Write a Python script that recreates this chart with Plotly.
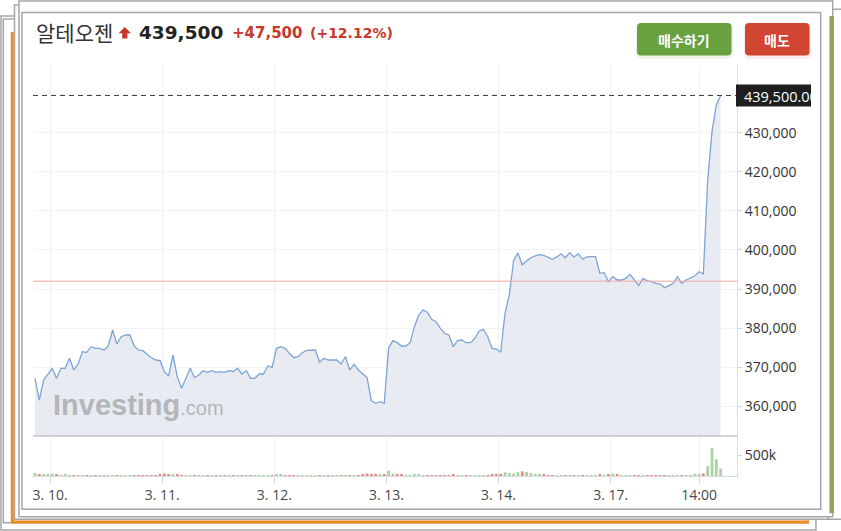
import plotly.graph_objects as go

W, H = 841, 531

# ---------------- data ----------------
prices = [
    367160, 361600, 366700, 368260, 369720, 367160, 369720, 369720, 372280, 369290,
    370820, 373960, 373810, 375250, 374830, 374830, 374400, 375420, 379510, 375940,
    377800, 378240, 378240, 375420, 374400, 374230, 373380, 372430, 371840, 371670,
    368850, 367750, 373120, 367580, 364610, 367160, 369720, 367330, 368010, 369110,
    368700, 369110, 368700, 368850, 368700, 369110, 368850, 369720, 368260, 369110,
    367160, 367160, 368260, 368260, 370310, 369970, 374830, 375250, 374830, 373550,
    372430, 372690, 373700, 374300, 374400, 374400, 371300, 372280, 371840, 371840,
    371840, 370820, 372690, 369290, 370740, 369290, 368260, 367330, 361430, 360770,
    361180, 360770, 374830, 376780, 376270, 375420, 375420, 376270, 380360, 383350,
    384630, 384040, 382250, 381640, 379950, 378670, 378240, 375250, 376780, 376960,
    376270, 376270, 377390, 379260, 379690, 377800, 374830, 374650, 373810, 383780,
    388500, 397300, 399200, 396200, 397200, 398000, 398500, 398800, 398600, 398000,
    397600, 398200, 399000, 398000, 399300, 398200, 399000, 397600, 398200, 398300,
    398300, 394010, 394170, 391870, 393150, 392300, 392300, 392730, 393750, 392300,
    390850, 392730, 392050, 391870, 391450, 391280, 390340, 390850, 391450, 393150,
    391450, 392300, 392730, 393320, 394420, 393840, 417880, 430230, 437060, 439500,
]

volumes_k = [
    70, 40, 45, 25, 55, 30, 20, 25, 15, 20,
    15, 18, 12, 15, 10, 12, 15, 10, 14, 10,
    12, 10, 10, 12, 10, 8, 10, 8, 12, 30,
    60, 45, 30, 25, 20, 15, 12, 15, 10, 10,
    8, 10, 8, 8, 10, 8, 8, 10, 8, 8,
    10, 8, 10, 8, 12, 20, 35, 25, 20, 12,
    10, 12, 10, 8, 10, 8, 10, 20, 12, 10,
    15, 12, 10, 12, 10, 15, 30, 60, 50, 35,
    40, 30, 130, 60, 35, 25, 20, 15, 25, 30,
    20, 15, 15, 12, 10, 15, 12, 25, 12, 10,
    10, 12, 15, 20, 12, 15, 25, 30, 40, 90,
    70, 60, 100, 110, 95, 70, 50, 45, 30, 20,
    15, 12, 15, 12, 10, 12, 10, 12, 10, 10,
    15, 25, 20, 35, 55, 25, 20, 15, 12, 10,
    15, 12, 12, 10, 10, 12, 10, 10, 12, 15,
    12, 15, 20, 25, 40, 60, 235, 665, 395, 175,
]

tick_index = [3.5, 29.5, 55.5, 81.5, 107.5, 133.5, 154]
tick_labels = ["3. 10.", "3. 11.", "3. 12.", "3. 13.", "3. 14.", "3. 17.", "14:00"]
price_ticks = [360000, 370000, 380000, 390000, 400000, 410000, 420000, 430000]
volume_ticks = [500000]
volume_tick_labels = ["500k"]

stock_name = "알테오젠"
last_price = 439500
prev_close = 392000
change = 47500
change_pct = 12.12
buy_label = "매수하기"
sell_label = "매도"

# ---------------- helpers ----------------
def px(x):
    return x / W

def py(y):
    return 1 - y / H

bars = list(range(len(prices)))
volumes = [v * 1000 for v in volumes_k]
vol_colors = []
for i, p in enumerate(prices):
    up = i == 0 or p >= prices[i - 1]
    vol_colors.append("#a9d3a3" if up else "#e58a85")

PLOT_L, PLOT_R = 33, 737
PRICE_T, PRICE_B = 65, 436
VOL_B = 476

per_px = 10000 / 39.1
price_top = 390000 + (289 - PRICE_T) * per_px
price_bot = 390000 - (PRICE_B - 289) * per_px
vol_top = (VOL_B - PRICE_B) / 21.0 * 500000

fig = go.Figure()
fig.add_trace(go.Scatter(
    x=bars, y=prices, mode="lines",
    line=dict(color="#7ea4d4", width=1.3),
    fill="tozeroy", fillcolor="#e8ecf2",
    hoverinfo="skip", showlegend=False,
    xaxis="x", yaxis="y",
))
fig.add_trace(go.Bar(
    x=bars, y=volumes, marker=dict(color=vol_colors, line=dict(width=0)),
    hoverinfo="skip", showlegend=False, xaxis="x", yaxis="y2",
))

shapes = []

def rect(x0, y0, x1, y1, color="#a6a6a6", width=1.5, fill="white", layer="below"):
    shapes.append(dict(type="rect", xref="paper", yref="paper",
                       x0=px(x0), x1=px(x1), y0=py(y1), y1=py(y0),
                       line=dict(color=color, width=width), fillcolor=fill, layer=layer))

def seg(x0, y0, x1, y1, color, width, layer="below", dash=None):
    d = dict(color=color, width=width)
    if dash:
        d["dash"] = dash
    shapes.append(dict(type="line", xref="paper", yref="paper",
                       x0=px(x0), x1=px(x1), y0=py(y0), y1=py(y1), line=d, layer=layer))

def path(points, fill, layer="below", opacity=1.0):
    parts = []
    for cmd, coords in points:
        c = " ".join(f"{px(a):.5f},{py(b):.5f}" for a, b in coords)
        parts.append(f"{cmd} {c}")
    shapes.append(dict(type="path", xref="paper", yref="paper", path=" ".join(parts) + " Z",
                       fillcolor=fill, line=dict(width=0, color=fill),
                       layer=layer, opacity=opacity))

def rrect(x0, y0, x1, y1, r, fill, layer="below", opacity=1.0):
    pts = [
        ("M", [(x0 + r, y0)]), ("L", [(x1 - r, y0)]), ("Q", [(x1, y0), (x1, y0 + r)]),
        ("L", [(x1, y1 - r)]), ("Q", [(x1, y1), (x1 - r, y1)]), ("L", [(x0 + r, y1)]),
        ("Q", [(x0, y1), (x0, y1 - r)]), ("L", [(x0, y0 + r)]), ("Q", [(x0, y0), (x0 + r, y0)]),
    ]
    path(pts, fill, layer=layer, opacity=opacity)

# ---- stacked card frame ----
rect(1, 16, 816, 530)
rect(3.3, 19, 808, 522.7)
seg(12.3, 32, 12.3, 523, "#f08a1c", 3)
seg(11, 522, 809, 522, "#f08a1c", 3)
rect(14.5, 5, 828.3, 519.3)
rect(828.3, 9.3, 850, 519.3)
rect(19, 1, 832.7, 516.7)
seg(831.7, 16, 831.7, 513.3, "#8fa65f", 4.5)
rect(22, 12.5, 820.7, 509.3)

# ---- buttons ----
rrect(636, 24, 733, 59, 6, "#69a040", opacity=0.10)
rrect(744, 24, 811, 59, 6, "#d04432", opacity=0.10)
rrect(637, 23, 731.5, 55.5, 4, "#69a040")
rrect(745, 23, 809.5, 55.5, 4, "#d04432")

# ---- up arrow ----
path([("M", [(124.8, 27)]), ("L", [(131, 33.2)]), ("L", [(127.4, 33.2)]), ("L", [(127.4, 38.5)]),
      ("L", [(122.2, 38.5)]), ("L", [(122.2, 33.2)]), ("L", [(118.6, 33.2)])], "#c8372d")

# ---- chart lines ----
seg(PLOT_L, PRICE_B, PLOT_R, PRICE_B, "#a9a9a9", 1, layer="above")
shapes.append(dict(type="line", xref="paper", yref="y", x0=px(PLOT_L), x1=px(PLOT_R),
                   y0=prev_close, y1=prev_close, line=dict(color="#f3a5a2", width=1), layer="above"))
shapes.append(dict(type="line", xref="paper", yref="y", x0=px(PLOT_L), x1=px(PLOT_R),
                   y0=last_price, y1=last_price,
                   line=dict(color="#3a3a3a", width=1, dash="5px,4px"), layer="above"))
# current price tag background
rect(736, 84.5, 811, 106.5, color="#1e1e1e", width=0, fill="#1e1e1e", layer="above")

annotations = [
    dict(x=px(33.5), y=py(32.5), xref="paper", yref="paper", xanchor="left", yanchor="middle",
         text=stock_name, showarrow=False,
         font=dict(family="Noto Sans CJK KR", size=21, color="#333333")),
    dict(x=px(136.5), y=py(33), xref="paper", yref="paper", xanchor="left", yanchor="middle",
         text=f"<b>{last_price:,}</b>", showarrow=False,
         font=dict(family="DejaVu Sans", size=18.5, color="#222222")),
    dict(x=px(229.5), y=py(33), xref="paper", yref="paper", xanchor="left", yanchor="middle",
         text=f"<b>+{change:,}</b>", showarrow=False,
         font=dict(family="DejaVu Sans", size=15, color="#c8372d")),
    dict(x=px(307.5), y=py(33), xref="paper", yref="paper", xanchor="left", yanchor="middle",
         text=f"<b>(+{change_pct:.2f}%)</b>", showarrow=False,
         font=dict(family="DejaVu Sans", size=14, color="#c8372d")),
    dict(x=px(684), y=py(39.5), xref="paper", yref="paper", xanchor="center", yanchor="middle",
         text=f"<b>{buy_label}</b>", showarrow=False,
         font=dict(family="Noto Sans CJK KR", size=14, color="white")),
    dict(x=px(777), y=py(39.5), xref="paper", yref="paper", xanchor="center", yanchor="middle",
         text=f"<b>{sell_label}</b>", showarrow=False,
         font=dict(family="Noto Sans CJK KR", size=14, color="white")),
    dict(x=px(51), y=py(405), xref="paper", yref="paper", xanchor="left", yanchor="middle",
         text="<b>Investing</b><span style='font-size:20px'>.com</span>", showarrow=False,
         font=dict(family="Liberation Sans", size=29, color="#b4b6ba")),
    dict(x=px(743), y=py(95.5), xref="paper", yref="paper", xanchor="left", yanchor="middle",
         text=f"{last_price:,.2f}", showarrow=False,
         width=67, height=20, align="left", borderpad=0,
         font=dict(family="Open Sans", size=14.5, color="white")),
]

fig.update_layout(
    width=W, height=H,
    margin=dict(l=0, r=0, t=0, b=0),
    paper_bgcolor="white", plot_bgcolor="rgba(0,0,0,0)",
    showlegend=False, bargap=0.35,
    shapes=shapes, annotations=annotations,
    font=dict(family="Open Sans", size=14, color="#444444"),
    xaxis=dict(
        domain=[px(PLOT_L), px(PLOT_R)], range=[-0.46, 162.8], anchor="y2",
        tickmode="array", tickvals=tick_index, ticktext=tick_labels,
        ticks="outside", ticklen=6, tickcolor="#d0d4da",
        showgrid=True, gridcolor="#eef1f5", gridwidth=1,
        showline=True, linecolor="#d8dce2", zeroline=False,
        tickfont=dict(family="Open Sans", size=14, color="#4a4a4a"),
    ),
    yaxis=dict(
        domain=[py(PRICE_B), py(PRICE_T)], range=[price_bot, price_top], side="right",
        anchor="x", tickmode="array", tickvals=price_ticks, tickformat=",d",
        ticks="outside", ticklen=4, tickcolor="#d0d4da",
        showgrid=True, gridcolor="#f2f3f5", showline=True, linecolor="#d8dde5",
        zeroline=False, tickfont=dict(family="Open Sans", size=14, color="#333333"),
    ),
    yaxis2=dict(
        domain=[py(VOL_B), py(PRICE_B)], range=[0, vol_top], side="right",
        anchor="x", tickmode="array", tickvals=volume_ticks, ticktext=volume_tick_labels,
        ticks="outside", ticklen=4, tickcolor="#d0d4da",
        showgrid=False, showline=True, linecolor="#d8dde5", zeroline=False,
        tickfont=dict(family="Open Sans", size=14, color="#333333"),
    ),
)

# the page is photographed at its top-left corner, so drop the default body margin
fig.write_html("out.html", config={"displayModeBar": False},
               post_script="document.body.style.margin='0px';")
